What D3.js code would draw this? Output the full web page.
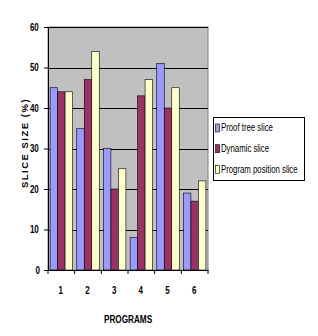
<!DOCTYPE html>
<html><head><meta charset="utf-8">
<script src="https://cdn.jsdelivr.net/npm/d3@7"></script>
<style>body{margin:0;background:#fff}svg{display:block}text{font-family:"Liberation Sans",Arial,sans-serif}</style>
</head><body><svg id="c" width="318" height="336"></svg>
<script>
const categories = ["1","2","3","4","5","6"];
const seriesNames = ["Proof tree slice","Dynamic slice","Program position slice"];
const proofTree = [45,35,30,8,51,19];
const dynamicSlice = [44,47,20,43,40,17];
const programPosition = [44,54,25,47,45,22];
const yTicks = [0,10,20,30,40,50,60];
const colors = ["#9999FF","#993366","#FFFFCC"];
const series = [proofTree, dynamicSlice, programPosition];

const svg = d3.select("#c");
const L=48, R=208, T=27, B=270;
const x = d3.scaleBand().domain(categories).range([L,R]).paddingInner(0).paddingOuter(0);
const y = d3.scaleLinear().domain([0,60]).range([B,T]);
const inner = d3.scaleBand().domain(d3.range(3)).range([0, x.bandwidth()]).paddingOuter(0.28).paddingInner(0);

svg.append("rect").attr("x",L).attr("y",T).attr("width",R-L).attr("height",B-T).attr("fill","#C0C0C0").attr("stroke","#808080").attr("stroke-width",1);

svg.append("g").selectAll("line").data(yTicks.filter(d=>d>0)).join("line")
  .attr("x1",L).attr("x2",R).attr("y1",d=>Math.round(y(d))+0.5).attr("y2",d=>Math.round(y(d))+0.5)
  .attr("stroke","#000").attr("stroke-width",1);

series.forEach((vals,si)=>{
  svg.append("g").selectAll("rect").data(vals).join("rect")
    .attr("x",(d,i)=>x(categories[i])+inner(si))
    .attr("y",d=>y(d))
    .attr("width",inner.bandwidth())
    .attr("height",d=>B-y(d))
    .attr("fill",colors[si]).attr("stroke","#000").attr("stroke-width",0.6);
});

function narrow(sel, s){
  sel.each(function(){
    const t=d3.select(this);
    const bb=this.getBBox();
    const anchor=t.attr("text-anchor")||"start";
    const ax = anchor==="end"? bb.x+bb.width : anchor==="middle"? bb.x+bb.width/2 : bb.x;
    const prev = t.attr("transform")||"";
    t.attr("transform", prev+` translate(${ax},0) scale(${s},1) translate(${-ax},0)`);
  });
}

const ya = svg.append("g").attr("transform",`translate(${L},0)`).call(d3.axisLeft(y).tickValues(yTicks).tickSize(4).tickPadding(3));
ya.select(".domain").attr("stroke","#000");
ya.selectAll("text").attr("font-size",10).attr("font-weight","bold").attr("fill","#000");
narrow(ya.selectAll("text"),0.8);

const xa = svg.append("g").attr("transform",`translate(0,${B})`).call(d3.axisBottom(x).tickSize(0).tickPadding(17));
xa.select(".domain").attr("stroke","#000");
xa.selectAll("text").attr("font-size",10).attr("font-weight","bold").attr("fill","#000");
narrow(xa.selectAll("text"),0.8);
svg.append("g").selectAll("line").data(d3.range(categories.length+1)).join("line")
  .attr("x1",i=>L+i*x.bandwidth()).attr("x2",i=>L+i*x.bandwidth())
  .attr("y1",B).attr("y2",B+4).attr("stroke","#000");

svg.append("text").attr("transform","translate(27.5,143) rotate(-90)").attr("text-anchor","middle")
  .attr("font-size",9.5).attr("font-weight","bold").attr("letter-spacing",1.5).text("SLICE SIZE (%)");
const xt = svg.append("text").attr("x",128).attr("y",323).attr("text-anchor","middle")
  .attr("font-size",10).attr("font-weight","bold").text("PROGRAMS");
narrow(xt,0.82);

const lg = svg.append("g");
lg.append("rect").attr("x",213.5).attr("y",117.5).attr("width",91).attr("height",63).attr("fill","#fff").attr("stroke","#000").attr("stroke-width",1);
seriesNames.forEach((n,i)=>{
  const cy = 128 + i*20.7;
  lg.append("rect").attr("x",215.5).attr("y",cy-4).attr("width",4).attr("height",8).attr("fill",colors[i]).attr("stroke","#000").attr("stroke-width",0.6);
  const t = lg.append("text").attr("x",221).attr("y",cy+3.5).attr("font-size",10).text(n);
  narrow(t,0.78);
});
</script></body></html>
